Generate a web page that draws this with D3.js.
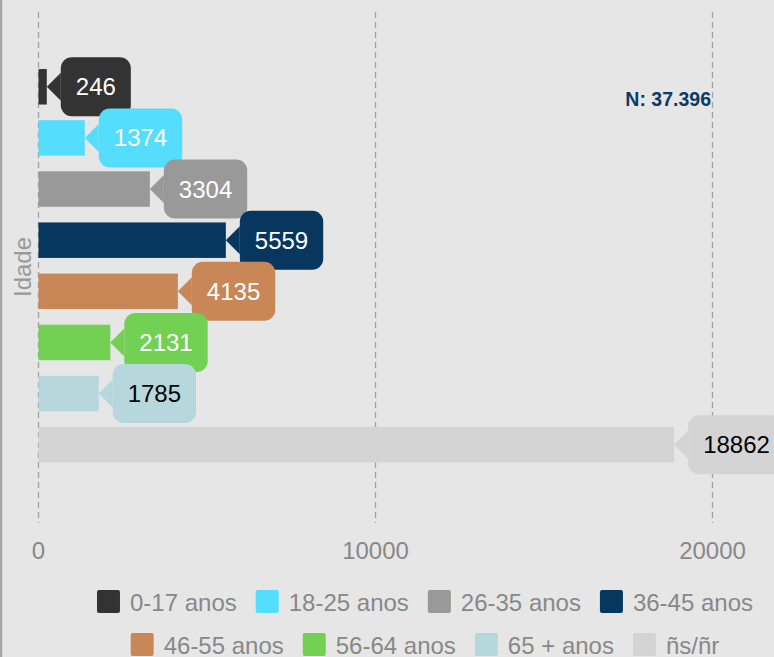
<!DOCTYPE html>
<html>
<head>
<meta charset="utf-8">
<script src="https://cdn.jsdelivr.net/npm/d3@7"></script>
<style>
  body { margin: 0; background: #e6e6e6; }
  svg { display: block; font-family: "Liberation Sans", Arial, sans-serif; }
</style>
</head>
<body>
<svg id="drawing_region"></svg>
<script>
// chart values
const categories = ["0-17 anos", "18-25 anos", "26-35 anos", "36-45 anos", "46-55 anos", "56-64 anos", "65 + anos", "ñs/ñr"];
const values = [246, 1374, 3304, 5559, 4135, 2131, 1785, 18862];
const colors = ["#333333", "#55ddfd", "#999999", "#07365f", "#c98657", "#72d153", "#b6d7dc", "#d4d4d4"];
const labelColors = ["#fff", "#fff", "#fff", "#fff", "#fff", "#fff", "#000", "#000"];
const xTicks = [0, 10000, 20000];
const totalLabel = "N: 37.396";
const axisTitle = "Idade";

const width = 774, height = 657;
const svg = d3.select("#drawing_region")
    .attr("width", width)
    .attr("height", height);

svg.append("rect")
    .attr("width", width).attr("height", height)
    .attr("fill", "#e6e6e6");

// left border
svg.append("line")
    .attr("x1", 1).attr("x2", 1)
    .attr("y1", 0).attr("y2", height)
    .attr("stroke", "#a6a6a6")
    .attr("stroke-width", 2.5);

const xscale = d3.scaleLinear()
    .domain([0, 20000])
    .range([38.5, 712.5]);

const yscale = d3.scaleBand()
    .domain(categories)
    .range([17.9, 513.6])
    .paddingInner(0.306)
    .paddingOuter(1);

// grid lines
svg.append("g")
    .selectAll("line")
    .data(xTicks)
    .join("line")
    .attr("x1", d => xscale(d)).attr("x2", d => xscale(d))
    .attr("y1", 12).attr("y2", 523)
    .attr("stroke", "#a0a0a0")
    .attr("stroke-width", 1.3)
    .attr("stroke-dasharray", "6,4");

// tick labels
svg.append("g")
    .selectAll("text")
    .data(xTicks)
    .join("text")
    .attr("x", d => xscale(d))
    .attr("y", 559)
    .attr("text-anchor", "middle")
    .attr("font-size", 24)
    .attr("fill", "#888888")
    .text(d => d);

// axis title
svg.append("text")
    .attr("transform", `translate(31, 267) rotate(-90)`)
    .attr("text-anchor", "middle")
    .attr("font-size", 24)
    .attr("fill", "#999999")
    .text(axisTitle);

// bars
const data = categories.map((c, i) => ({ name: c, value: values[i], color: colors[i], textColor: labelColors[i] }));

svg.append("g")
    .selectAll("rect")
    .data(data)
    .join("rect")
    .attr("x", xscale(0))
    .attr("y", d => yscale(d.name))
    .attr("width", d => xscale(d.value) - xscale(0))
    .attr("height", yscale.bandwidth())
    .attr("fill", d => d.color);

// callout labels
const callouts = svg.append("g");
data.forEach(d => {
    const g = callouts.append("g");
    const cy = yscale(d.name) + yscale.bandwidth() / 2;
    const tip = xscale(d.value);
    const left = tip + 14;
    const t = g.append("text")
        .attr("font-size", 24)
        .attr("fill", d.textColor)
        .attr("y", cy + 8.5)
        .text(d.value);
    const tw = t.node().getComputedTextLength();
    const bw = tw + 30, bh = 59;
    g.insert("path", "text")
        .attr("d", `M${tip},${cy} L${left},${cy - 14} L${left},${cy + 14} Z`)
        .attr("fill", d.color);
    g.insert("rect", "text")
        .attr("x", left).attr("y", cy - bh / 2)
        .attr("width", bw).attr("height", bh)
        .attr("rx", 11)
        .attr("fill", d.color);
    t.attr("x", left + 15);
});

// total label
svg.append("text")
    .attr("x", 711)
    .attr("y", 105.5)
    .attr("text-anchor", "end")
    .attr("font-size", 19.5)
    .attr("font-weight", "bold")
    .attr("fill", "#0b3b67")
    .text(totalLabel);

// legend
const rows = [data.slice(0, 4), data.slice(4)];
const rowY = [590, 633];
const legend = svg.append("g");
rows.forEach((row, r) => {
    const rg = legend.append("g");
    let x = 0;
    row.forEach(d => {
        rg.append("rect")
            .attr("x", x).attr("y", rowY[r])
            .attr("width", 23).attr("height", 23)
            .attr("rx", 2)
            .attr("fill", d.color);
        const t = rg.append("text")
            .attr("x", x + 33)
            .attr("y", rowY[r] + 20.5)
            .attr("font-size", 24)
            .attr("fill", "#888888")
            .text(d.name);
        x += 33 + t.node().getComputedTextLength() + 19;
    });
    const total = x - 19;
    rg.attr("transform", `translate(${425 - total / 2}, 0)`);
});
</script>
</body>
</html>
